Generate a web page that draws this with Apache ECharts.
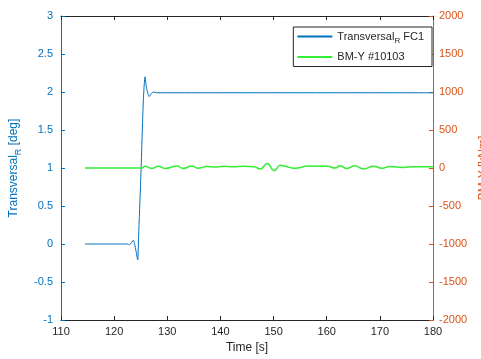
<!DOCTYPE html>
<html>
<head>
<meta charset="utf-8">
<script src="https://cdn.jsdelivr.net/npm/echarts@6/dist/echarts.min.js"></script>
<style>
  html, body { margin: 0; padding: 0; background: #fff; }
  #chart { width: 481px; height: 359px; }
</style>
</head>
<body>
<div id="chart"></div>
<script>
// blue trace, left axis [deg]
const transTime = [114.5, 122.5, 122.9, 123.6, 124.0, 124.43, 124.6, 125.0, 125.5, 125.81, 126.1, 126.6, 127.0, 127.4, 128.0, 180];
const transVal  = [0, 0, -0.01, 0.05, -0.05, -0.21, 0.1, 0.84, 1.9, 2.2, 2.05, 1.94, 1.98, 2.0, 1.99, 1.99];

// green trace, right axis [kNm]
const bmTime = [114.5, 125.2, 125.8, 127.1, 128.3, 129.6, 131.8, 133.0, 134.6, 135.8, 137.4, 139.0, 140.5, 142.4, 144.3, 146.3, 147.5, 148.8, 150.1, 151.3, 152.2, 154.0, 156.5, 160.2, 161.6, 162.5, 163.8, 165.3, 166.9, 168.8, 170.4, 171.9, 174.4, 176.2, 180];
const bmVal  = [0, 0, 22, -5, 22, -5, 25, -5, 25, -3, 20, 12, 22, 15, 22, 15, -12, 60, -35, 35, 22, -3, 25, 22, 0, 30, -5, 28, -12, 22, -3, 20, 8, 18, 16];

const xTicks = [110, 120, 130, 140, 150, 160, 170, 180];

const blue = '#0072BD';
const orange = '#D95319';
const green = '#33ee33';
const font = 'Liberation Sans, Arial, sans-serif';

const chart = echarts.init(document.getElementById('chart'));

const option = {
    animation: false,
    grid: { left: 61, right: 48, top: 16, bottom: 39, outerBoundsMode: 'none', containLabel: false },
    legend: {
        right: 49,
        top: 27,
        orient: 'vertical',
        itemWidth: 35,
        itemHeight: 2,
        itemGap: 7,
        padding: [4, 8, 4, 4],
        borderColor: '#262626',
        borderWidth: 1,
        backgroundColor: '#fff',
        textStyle: { fontFamily: font, fontSize: 11, color: '#262626', rich: {
            s: { fontSize: 8, fontFamily: font, color: '#262626', padding: [8, 0, 0, 0] }
        } },
        icon: 'rect',
        formatter: name => name === 'trans' ? 'Transversal{s|R} FC1' : name,
        data: ['trans', 'BM-Y #10103']
    },
    xAxis: [{
        type: 'value',
        min: 110, max: 180, interval: 10,
        name: 'Time [s]',
        nameLocation: 'middle',
        nameGap: 21,
        nameTextStyle: { fontFamily: font, fontSize: 12, color: '#262626' },
        axisLine: { onZero: false, lineStyle: { color: '#262626', width: 1 } },
        axisTick: { inside: true, length: 4, lineStyle: { color: '#262626' } },
        axisLabel: { fontFamily: font, fontSize: 11, color: '#262626', margin: 6,
            formatter: v => xTicks.includes(v) ? String(v) : '' },
        splitLine: { show: false }
    }, {
        type: 'value',
        position: 'top',
        min: 110, max: 180, interval: 10,
        axisLine: { show: true, onZero: false, lineStyle: { color: '#262626', width: 1 } },
        axisTick: { inside: true, length: 4, lineStyle: { color: '#262626' } },
        axisLabel: { show: false },
        splitLine: { show: false }
    }],
    yAxis: [{
        type: 'value',
        position: 'left',
        min: -1, max: 3, interval: 0.5,
        name: '{a|Transversal}{s|R}{a| [deg]}',
        nameLocation: 'middle',
        nameGap: 22,
        nameRotate: 90,
        nameTextStyle: { color: blue, rich: {
            a: { fontFamily: font, fontSize: 12, color: blue },
            s: { fontFamily: font, fontSize: 9, color: blue, padding: [9, 0, 0, 0] }
        } },
        axisLine: { show: true, onZero: false, lineStyle: { color: blue, width: 1 } },
        axisTick: { show: true, inside: true, length: 4, lineStyle: { color: blue } },
        axisLabel: { fontFamily: font, fontSize: 11, color: blue, margin: 8 },
        splitLine: { show: false }
    }, {
        type: 'value',
        position: 'right',
        min: -2000, max: 2000, interval: 500,
        name: 'BM-Y [kNm]',
        nameLocation: 'middle',
        nameGap: 43,
        nameRotate: 90,
        nameTextStyle: { fontFamily: font, fontSize: 12, color: orange },
        axisLine: { show: true, onZero: false, lineStyle: { color: orange, width: 1 } },
        axisTick: { show: true, inside: true, length: 4, lineStyle: { color: orange } },
        axisLabel: { fontFamily: font, fontSize: 11, color: orange, margin: 6,
            formatter: v => String(v) },
        splitLine: { show: false }
    }],
    series: [{
        name: 'trans',
        type: 'line',
        xAxisIndex: 0,
        yAxisIndex: 0,
        data: transTime.map((t, i) => [t, transVal[i]]),
        showSymbol: false,
        smooth: 0.2,
        lineStyle: { color: blue, width: 1 },
        itemStyle: { color: blue }
    }, {
        name: 'BM-Y #10103',
        type: 'line',
        xAxisIndex: 0,
        yAxisIndex: 1,
        data: bmTime.map((t, i) => [t, bmVal[i]]),
        showSymbol: false,
        smooth: 0.5,
        lineStyle: { color: green, width: 1.5 },
        itemStyle: { color: green }
    }]
};

chart.setOption(option);
</script>
</body>
</html>
